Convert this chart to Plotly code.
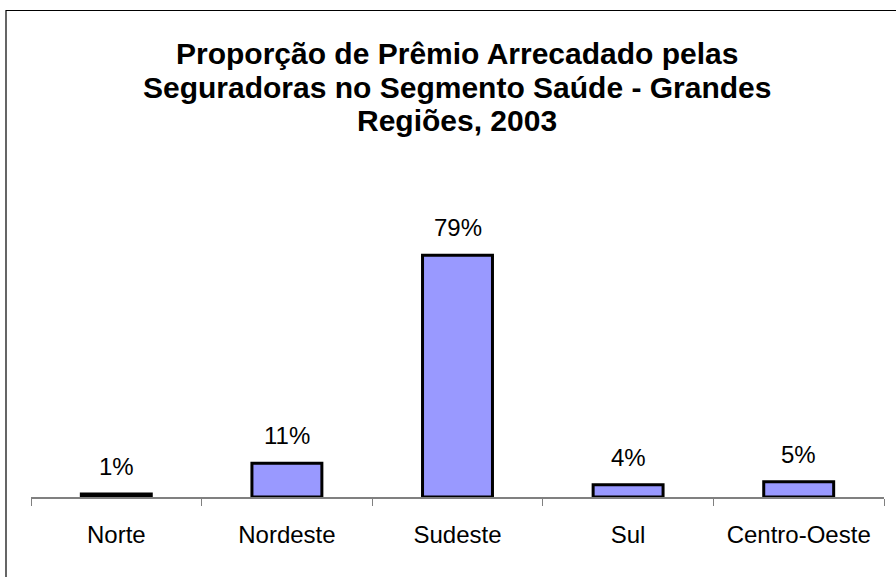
import plotly.graph_objects as go

categories = ["Norte", "Nordeste", "Sudeste", "Sul", "Centro-Oeste"]
values = [1, 11, 79, 4, 5]
labels = ["1%", "11%", "79%", "4%", "5%"]
title_lines = ["Proporção de Prêmio Arrecadado pelas",
               "Seguradoras no Segmento Saúde - Grandes",
               "Regiões, 2003"]

W, H = 896, 577
ml, mr, mt, mb = 31, 12, 191, 80
pw = W - ml - mr
ph = H - mt - mb

def px_x(x):
    return (x - ml) / pw

def px_y(y):
    return (H - mb - y) / ph

fig = go.Figure()
fig.add_trace(go.Bar(
    x=categories, y=values,
    marker=dict(color="#9999FF", line=dict(color="black", width=3)),
    width=0.41,
    hoverinfo="skip",
))

for c, v, t in zip(categories, values, labels):
    fig.add_annotation(x=c, y=v, text=t, showarrow=False, yanchor="bottom",
                       yshift=12, font=dict(size=24, color="black"))

title_baselines = [63, 97, 131]
for line, base in zip(title_lines, title_baselines):
    fig.add_annotation(xref="paper", yref="paper", x=px_x(457), y=px_y(base - 10),
                       xanchor="center", yanchor="middle", showarrow=False,
                       text="<b>" + line + "</b>", font=dict(size=30, color="black"))

fig.add_shape(type="rect", xref="paper", yref="paper",
              x0=px_x(6), x1=px_x(905), y0=px_y(590), y1=px_y(10.5),
              line=dict(color="black", width=1.2), fillcolor="rgba(0,0,0,0)")

fig.update_layout(
    width=W, height=H,
    margin=dict(l=ml, r=mr, t=mt, b=mb),
    paper_bgcolor="white", plot_bgcolor="white",
    font=dict(family="Liberation Sans, Arial, sans-serif", color="black"),
    showlegend=False,
    bargap=0.59,
)
fig.update_xaxes(showline=True, linecolor="#808080", linewidth=1.5,
                 ticks="outside", tickson="boundaries", ticklen=7,
                 tickcolor="#808080", tickwidth=1, ticklabelstandoff=15,
                 tickfont=dict(size=24, color="black"), showgrid=False,
                 range=[-0.5, 4.5])
fig.update_yaxes(visible=False, range=[0, 100], showgrid=False)

fig.write_html("out.html", config={"displayModeBar": False},
               post_script="document.body.style.margin='0';")
